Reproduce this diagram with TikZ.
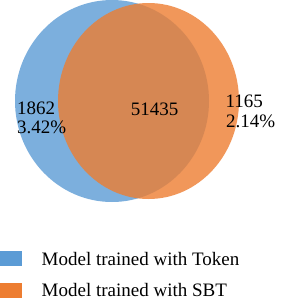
\documentclass[tikz,border=0pt]{standalone}
\usepackage{fontspec}
\setmainfont{Liberation Serif}
\usetikzlibrary{positioning}
\definecolor{tokblue}{HTML}{5B9BD5}
\definecolor{sbtorange}{HTML}{ED7D31}
\tikzset{
  vset/.style={fill opacity=0.8},
  vlabel/.style={font=\fontsize{19}{20}\selectfont, inner sep=0pt, anchor=base west},
  lkey/.style={minimum width=22pt, minimum height=15pt, inner sep=0pt, anchor=north west},
  ltext/.style={font=\fontsize{19}{20}\selectfont, inner sep=0pt, anchor=base west}
}

\begin{document}
\begin{tikzpicture}[x=1pt,y=-1pt]
\useasboundingbox (0,0) rectangle (287,306);
\fill[tokblue, vset] (112,101) ellipse [x radius=97, y radius=101];
\fill[sbtorange, vset] (148.5,101) ellipse [x radius=90.5, y radius=98];

\node[vlabel, anchor=base] (both) at (154.7,115) {51435};
\node[vlabel] (tokcount) at (17,114.5) {1862};
\node[vlabel] (tokshare) at (17,133) {3.42\%};
\node[vlabel] (sbtcount) at (225.5,107) {1165};
\node[vlabel] (sbtshare) at (226,127) {2.14\%};

\node[lkey, fill=tokblue] (tokkey) at (0,250.7) {};
\node[ltext] (toktext) at (41.5,265.5) {Model trained with Token};
\node[lkey, fill=sbtorange] (sbtkey) at (0,283) {};
\node[ltext] (sbttext) at (41.5,296.5) {Model trained with SBT};
\end{tikzpicture}
\end{document}
